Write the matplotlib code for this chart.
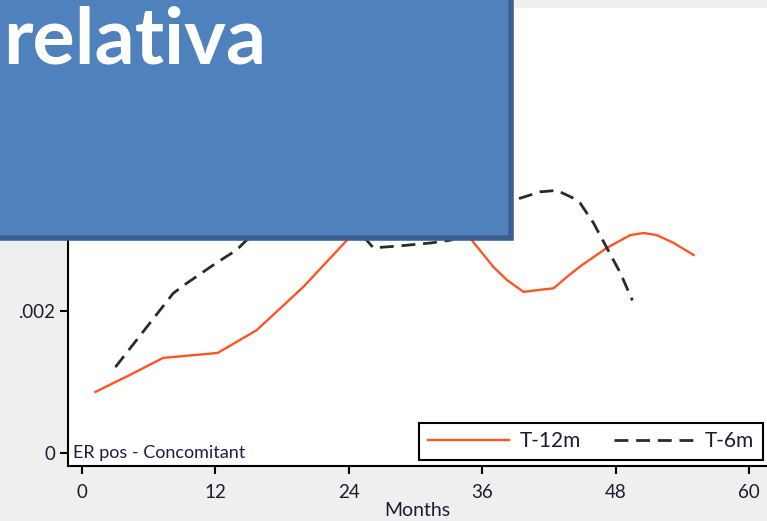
import matplotlib.pyplot as plt
from matplotlib.patches import Rectangle

# hazard estimates by month since diagnosis
months_12 = [1.2, 4.3, 7.3, 9.4, 12.2, 15.7, 19.9, 23.0, 25.5, 28.0, 30.0, 32.5,
             35.2, 37.0, 38.2, 39.7, 41.2, 42.4, 43.6, 44.8, 47.2, 49.3, 50.5,
             51.7, 53.2, 55.0]
rate_12 = [0.00086, 0.00110, 0.00134, 0.00137, 0.00141, 0.00173, 0.00234, 0.00286,
           0.00328, 0.00360, 0.00365, 0.00350, 0.00297, 0.00262, 0.00244, 0.00227,
           0.00230, 0.00232, 0.00248, 0.00263, 0.00289, 0.00307, 0.00310,
           0.00307, 0.00296, 0.00279]

months_6 = [3.0, 8.2, 9.4, 12.1, 13.9, 14.8, 17.0, 20.0, 22.5, 24.5, 26.2, 28.7,
            31.4, 33.2, 35.0, 37.0, 38.8, 41.2, 42.7, 44.2, 44.8, 46.0, 47.2,
            48.4, 49.5]
rate_6 = [0.00121, 0.00225, 0.00239, 0.00268, 0.00286, 0.00300, 0.00320, 0.00350,
          0.00350, 0.00320, 0.00289, 0.00292, 0.00296, 0.00300, 0.00320, 0.00343,
          0.00356, 0.00368, 0.00370, 0.00359, 0.00352, 0.00324, 0.00289,
          0.00254, 0.00215]

xticks = [0, 12, 24, 36, 48, 60]
yticks = [0, 0.002]
ylabels = ['0', '.002']

W, H = 767, 521
fig = plt.figure(figsize=(W / 100, H / 100), dpi=100, facecolor='#efefef')
ax = fig.add_axes([68 / W, 1 - 466 / H, 1 - 68 / W, (466 - 8) / H])
ax.set_facecolor('white')

ax.plot(months_12, rate_12, color='#ff5526', lw=1.7, label='T-12m')
ax.plot(months_6, rate_6, color='#2b2b2b', lw=2.0, ls=(0, (5, 2.8)), label='T-6m')

ax.set_xlim(-1.26, 61.6)
ax.set_ylim(-0.000183, 0.00627)
for s in ['top', 'right']:
    ax.spines[s].set_visible(False)
for s in ['left', 'bottom']:
    ax.spines[s].set_linewidth(1.5)

tick_color = '#1c1c30'
ax.set_xticks(xticks)
ax.set_yticks(yticks, ylabels)
ax.tick_params(direction='out', length=6, width=1.5, labelsize=13.5,
               labelcolor=tick_color)
ax.tick_params(axis='x', pad=7)
ax.tick_params(axis='y', pad=3)
for lab in ax.get_xticklabels() + ax.get_yticklabels():
    lab.set_family('Lato')
ax.set_xlabel('Months', fontsize=14, family='Lato', color=tick_color, labelpad=1)

ax.text(-0.85, 0, 'ER pos - Concomitant', fontsize=13, family='Lato',
        color='#1c1c40', va='center', ha='left')

leg = ax.legend(loc='lower right', bbox_to_anchor=(0.9943, 0.013), ncol=2,
                prop={'family': 'Lato', 'size': 15},
                handlelength=3.9, handletextpad=0.48, columnspacing=1.58,
                borderpad=0.42, borderaxespad=0, fancybox=False, framealpha=1)
leg.get_frame().set_edgecolor('black')
leg.get_frame().set_linewidth(1.5)
for t in leg.get_texts():
    t.set_color(tick_color)

# slide title box laid over the chart
box = Rectangle((-10 / W, 1 - 238 / H), 521 / W, 248 / H, transform=fig.transFigure,
                facecolor='#4f81bd', edgecolor='#3a5f8e', lw=4, zorder=10)
fig.add_artist(box)
fig.text(3 / W, 1 - 64 / H, 'relativa', fontsize=57, family='Lato',
         fontweight='bold', color='white', ha='left', va='baseline', zorder=11)

fig.savefig('out.png', dpi=100, facecolor=fig.get_facecolor())
